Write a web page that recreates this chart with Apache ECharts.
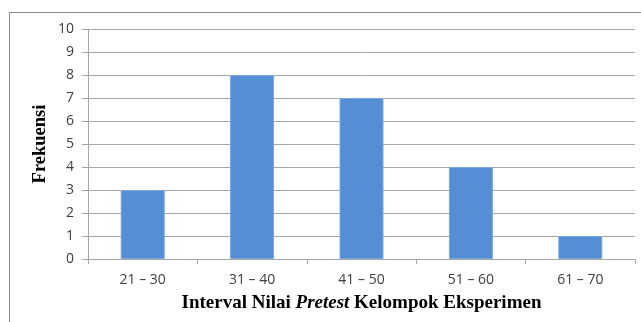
<!DOCTYPE html>
<html><head><meta charset="utf-8">
<script src="https://cdn.jsdelivr.net/npm/echarts@6/dist/echarts.min.js"></script>
<style>html,body{margin:0;padding:0;background:#fff}#c{width:641px;height:322px}</style>
</head><body><div id="c"></div>
<script>
const categories = ['21 – 30', '31 – 40', '41 – 50', '51 – 60', '61 – 70'];
const frequencies = [3, 8, 7, 4, 1];
const yTicks = [0, 1, 2, 3, 4, 5, 6, 7, 8, 9, 10];
const yTitle = 'Frekuensi';

const chart = echarts.init(document.getElementById('c'), null, {renderer: 'canvas'});
chart.setOption({
  animation: false,
  backgroundColor: '#fff',
  graphic: [{
    type: 'polyline', shape: {points: [[9.5, 322], [9.5, 12.5], [641, 12.5]]},
    style: {stroke: '#8c8c8c', lineWidth: 1, fill: null}
  }, {
    type: 'text', x: 40, y: 144, rotation: Math.PI / 2,
    style: {text: yTitle, fontFamily: 'Liberation Serif', fontWeight: 'bold', fontSize: 18.5,
      fill: '#000', align: 'center', verticalAlign: 'middle'}
  }],
  grid: {left: 88, right: 6, top: 29, bottom: 63},
  xAxis: {
    type: 'category', data: categories,
    axisLine: {lineStyle: {color: '#a6a6a6'}},
    axisTick: {show: true, length: 5, lineStyle: {color: '#a6a6a6'}},
    axisLabel: {color: '#404040', fontSize: 14, fontFamily: 'Open Sans', margin: 14},
    name: '{b|Interval Nilai }{i|Pretest}{b| Kelompok Eksperimen}',
    nameLocation: 'middle', nameGap: 35,
    nameTextStyle: {rich: {
      b: {fontFamily: 'Liberation Serif', fontWeight: 'bold', fontSize: 19, color: '#000'},
      i: {fontFamily: 'Liberation Serif', fontWeight: 'bold', fontStyle: 'italic', fontSize: 19, color: '#000'}
    }}
  },
  yAxis: {
    type: 'value', min: 0, max: 10, interval: 1,
    axisLine: {show: true, lineStyle: {color: '#a6a6a6'}},
    axisTick: {show: true, length: 6, lineStyle: {color: '#a6a6a6'}},
    axisLabel: {color: '#404040', fontSize: 14, fontFamily: 'Open Sans', margin: 14,
      formatter: v => yTicks.includes(v) ? String(v) : ''},
    splitLine: {lineStyle: {color: '#a6a6a6', width: 1}}
  },
  series: [{
    type: 'bar', data: frequencies, barWidth: 44,
    itemStyle: {color: '#558ed5', borderColor: '#7aa7e0', borderWidth: 1}
  }]
});
</script></body></html>
